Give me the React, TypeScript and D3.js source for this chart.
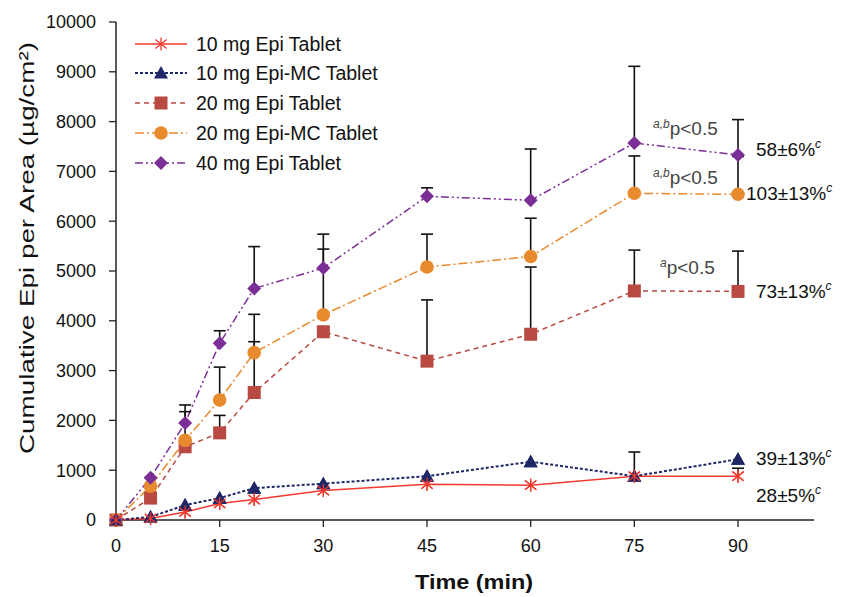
import React from "react";
import * as d3 from "d3";

// sampling times (min)
const times = [0, 5, 10, 15, 20, 30, 45, 60, 75, 90];
const xTicks = [0, 15, 30, 45, 60, 75, 90];
const yTicks = [0, 1000, 2000, 3000, 4000, 5000, 6000, 7000, 8000, 9000, 10000];

// mean cumulative amount (µg/cm²)
const epi10 = [0, 30, 160, 330, 410, 590, 720, 700, 880, 880];
const mc10 = [0, 60, 300, 440, 640, 730, 880, 1170, 880, 1220];
const epi20 = [0, 440, 1470, 1750, 2560, 3780, 3190, 3730, 4600, 4590];
const mc20 = [0, 680, 1600, 2410, 3360, 4120, 5080, 5290, 6560, 6540];
const epi40 = [0, 850, 1950, 3550, 4650, 5060, 6500, 6420, 7570, 7330];

// upper error bar ends (null = none drawn)
const epi10Err = [null, null, null, null, null, null, null, null, null, 1040];
const mc10Err = [null, null, null, null, null, null, null, null, 1365, null];
const epi20Err = [null, null, null, 2100, 3580, null, 4420, 5080, 5420, 5400];
const mc20Err = [null, null, 2175, 3070, 4130, 5440, 5740, 6060, 7310, 7300];
const epi40Err = [null, null, 2310, 3800, 5490, 5740, 6670, 7450, 9110, 8040];

const seriesNames = [
  "10 mg Epi Tablet",
  "10 mg Epi-MC Tablet",
  "20 mg Epi Tablet",
  "20 mg Epi-MC Tablet",
  "40 mg Epi Tablet",
];

// end-point release labels
const endLabels = ["58±6%", "103±13%", "73±13%", "39±13%", "28±5%"];
const endLabelY = [7450, 6560, 4590, 1250, 500];
const pLabels = ["a,b", "a,b", "a"];
const pLabelY = [7740, 6750, 4930];

const series = [
  { name: seriesNames[0], values: epi10, err: epi10Err, color: "#f23a2e", marker: "star", dash: null, width: 1.5 },
  { name: seriesNames[1], values: mc10, err: mc10Err, color: "#1f2766", marker: "triangle", dash: "3,2", width: 2 },
  { name: seriesNames[2], values: epi20, err: epi20Err, color: "#b84a42", marker: "square", dash: "5,4", width: 1.5 },
  { name: seriesNames[3], values: mc20, err: mc20Err, color: "#e88a2e", marker: "circle", dash: "9,3,2,3", width: 1.5 },
  { name: seriesNames[4], values: epi40, err: epi40Err, color: "#7b2f96", marker: "diamond", dash: "8,3,2,3,2,3", width: 1.5 },
];

const FONT = "'Liberation Sans', Arial, sans-serif";

function Marker({ type, x, y, color }) {
  if (type === "star") {
    const r = 6.5;
    return (
      <g stroke={color} strokeWidth={1.3}>
        <line x1={x} y1={y - r} x2={x} y2={y + r} />
        <line x1={x - r * 0.87} y1={y - r * 0.7} x2={x + r * 0.87} y2={y + r * 0.7} />
        <line x1={x - r * 0.87} y1={y + r * 0.7} x2={x + r * 0.87} y2={y - r * 0.7} />
      </g>
    );
  }
  if (type === "triangle") {
    const s = 7;
    return <path d={`M${x},${y - s}L${x + s},${y + s * 0.8}L${x - s},${y + s * 0.8}Z`} fill={color} />;
  }
  if (type === "square") {
    const s = 6.5;
    return <rect x={x - s} y={y - s} width={2 * s} height={2 * s} fill={color} />;
  }
  if (type === "circle") {
    return <circle cx={x} cy={y} r={6.8} fill={color} />;
  }
  const s = 7;
  return <path d={`M${x},${y - s}L${x + s},${y}L${x},${y + s}L${x - s},${y}Z`} fill={color} />;
}

export default function App() {
  const width = 842;
  const height = 597;
  const x = d3.scaleLinear().domain([0, 90]).range([116, 738]);
  const y = d3.scaleLinear().domain([0, 10000]).range([520, 22]);
  const xAxisEnd = x(101);

  const line = d3
    .line<number>()
    .x((_, i) => x(times[i]))
    .y((d) => y(d));

  const legendY = [44, 73, 103, 133, 163];

  return (
    <svg
      width={width}
      height={height}
      style={{ position: "absolute", left: 0, top: 0, background: "#fff" }}
      fontFamily={FONT}
    >
      {/* axes */}
      <line x1={x(0)} y1={y(0)} x2={xAxisEnd} y2={y(0)} stroke="#222" strokeWidth={1.5} />
      <line x1={x(0)} y1={y(0)} x2={x(0)} y2={y(10000)} stroke="#222" strokeWidth={1.5} />
      {yTicks.map((t) => (
        <g key={"y" + t}>
          <line x1={x(0) - 7} x2={x(0)} y1={y(t)} y2={y(t)} stroke="#222" strokeWidth={1.3} />
          <text x={x(0) - 20} y={y(t)} dy="0.36em" textAnchor="end" fontSize={18} fill="#111">
            {t}
          </text>
        </g>
      ))}
      {xTicks.map((t) => (
        <g key={"x" + t}>
          <line x1={x(t)} x2={x(t)} y1={y(0)} y2={y(0) + 7} stroke="#222" strokeWidth={1.3} />
          <text x={x(t)} y={y(0) + 32} textAnchor="middle" fontSize={18} fill="#111">
            {t}
          </text>
        </g>
      ))}
      <text
        x={474}
        y={589}
        textAnchor="middle"
        fontSize={21}
        fontWeight="bold"
        fill="#111"
        textLength={118}
        lengthAdjust="spacingAndGlyphs"
      >
        Time (min)
      </text>
      <text
        transform={`translate(34, 248) rotate(-90)`}
        textAnchor="middle"
        fontSize={21}
        fill="#111"
        textLength={412}
        lengthAdjust="spacingAndGlyphs"
      >
        Cumulative Epi per Area (µg/cm²)
      </text>

      {/* lines */}
      {series.map((s) => (
        <path
          key={"l" + s.name}
          d={line(s.values) || ""}
          fill="none"
          stroke={s.color}
          strokeWidth={s.width}
          strokeDasharray={s.dash || undefined}
        />
      ))}

      {/* error bars */}
      {series.map((s) =>
        s.err.map((e, i) =>
          e == null ? null : (
            <g key={"e" + s.name + i} stroke="#111" strokeWidth={1.6}>
              <line x1={x(times[i])} x2={x(times[i])} y1={y(s.values[i])} y2={y(e)} />
              <line x1={x(times[i]) - 6} x2={x(times[i]) + 6} y1={y(e)} y2={y(e)} />
            </g>
          )
        )
      )}

      {/* markers */}
      {series.map((s) =>
        s.values.map((v, i) => (
          <Marker key={"m" + s.name + i} type={s.marker} x={x(times[i])} y={y(v)} color={s.color} />
        ))
      )}
      {[series[1], series[0]].map((s) =>
        s.values.map((v, i) => (
          <Marker key={"t" + s.name + i} type={s.marker} x={x(times[i])} y={y(v)} color={s.color} />
        ))
      )}

      {/* legend */}
      {series.map((s, i) => (
        <g key={"lg" + s.name}>
          <line
            x1={135}
            x2={187}
            y1={legendY[i]}
            y2={legendY[i]}
            stroke={s.color}
            strokeWidth={s.width}
            strokeDasharray={s.dash || undefined}
          />
          <Marker type={s.marker} x={161} y={legendY[i]} color={s.color} />
          <text x={196} y={legendY[i]} dy="0.36em" fontSize={19.5} fill="#111">
            {s.name}
          </text>
        </g>
      ))}

      {/* significance annotations */}
      {pLabels.map((p, i) => (
        <text key={"p" + i} x={i === 2 ? 660 : 653} y={y(pLabelY[i])} fontSize={19} fill="#444">
          <tspan fontSize={12} dy={-7} fontStyle="italic">{p}</tspan>
          <tspan dy={7}>p&lt;0.5</tspan>
        </text>
      ))}
      {endLabels.map((a, i) => (
        <text key={a} x={i === 1 ? 746 : 756} y={y(endLabelY[i])} dy="0.36em" fontSize={19} fill="#111">
          {a}
          <tspan fontSize={12} dy={-8} fontStyle="italic">c</tspan>
        </text>
      ))}
    </svg>
  );
}
